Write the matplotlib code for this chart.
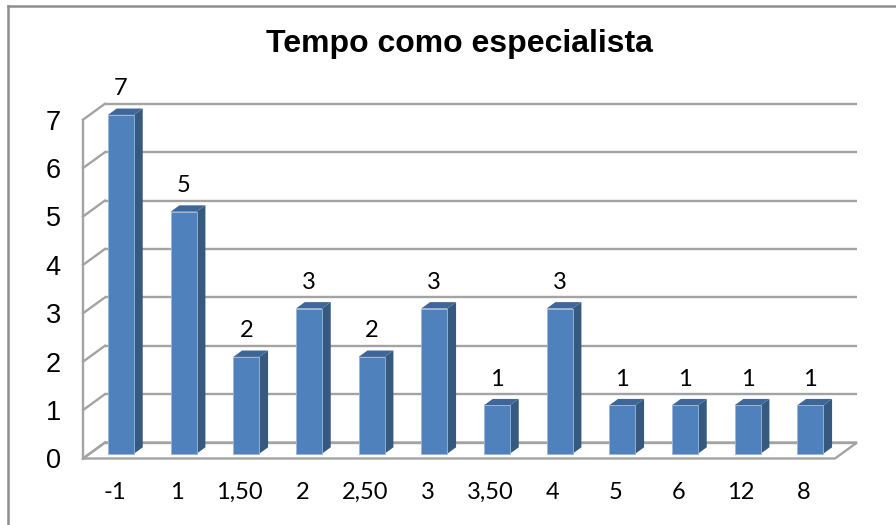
import numpy as np
import matplotlib as mpl
mpl.use('Agg')
import matplotlib.pyplot as plt
from matplotlib.patches import Polygon
from matplotlib.lines import Line2D

# data
categories = ['-1', '1', '1,50', '2', '2,50', '3', '3,50', '4', '5', '6', '12', '8']
counts = [7, 5, 2, 3, 2, 3, 1, 3, 1, 1, 1, 1]
yticks = [0, 1, 2, 3, 4, 5, 6, 7]
title = 'Tempo como especialista'

# pseudo-3d geometry, in data units of the front plane
DEPTH = np.array([0.351, 0.33])   # front -> back wall offset
BAR_Z0, BAR_Z1 = 0.30, 0.70       # bar slab position along the depth
BAR_W = 0.415

FACE = '#4f81bd'
SIDE = '#36597f'
TOP = '#3e6699'
GRID = '#a3a3a3'

fig = plt.figure(figsize=(8.96, 5.25), dpi=100)
ax = fig.add_axes([83 / 896., (525 - 458.5) / 525., 752 / 896., 338.8 / 525.])
n = len(categories)
ymax = yticks[-1]
ax.set_xlim(-0.5, n - 0.5)
ax.set_ylim(0, ymax)
for s in ax.spines.values():
    s.set_visible(False)

x0, x1 = -0.5, n - 0.5
dx, dy = DEPTH

# floor
floor = Polygon([(x0, 0), (x1, 0), (x1 + dx, dy), (x0 + dx, dy)], closed=True,
                facecolor='white', edgecolor=GRID, lw=1.7, zorder=1, clip_on=False)
ax.add_patch(floor)

# back wall gridlines and left wall
for v in yticks:
    ax.plot([x0 + dx, x1 + dx], [v + dy, v + dy], color=GRID, lw=1.7,
            zorder=1, clip_on=False, solid_capstyle='butt')
    ax.plot([x0, x0 + dx], [v, v + dy], color=GRID, lw=1.7, zorder=1, clip_on=False)
ax.plot([x0, x0], [0, ymax], color=GRID, lw=1.7, zorder=1, clip_on=False)

# bars
ox, oy = BAR_Z0 * dx, BAR_Z0 * dy
bx, by = (BAR_Z1 - BAR_Z0) * dx, (BAR_Z1 - BAR_Z0) * dy
for i, v in enumerate(counts):
    xl = i + ox - BAR_W / 2
    xr = i + ox + BAR_W / 2
    yb, yt = oy, v + oy
    side = Polygon([(xr, yb), (xr + bx, yb + by), (xr + bx, yt + by), (xr, yt)],
                   closed=True, facecolor=SIDE, edgecolor='none', zorder=3, clip_on=False)
    top = Polygon([(xl, yt), (xr, yt), (xr + bx, yt + by), (xl + bx, yt + by)],
                  closed=True, facecolor=TOP, edgecolor='none', zorder=3, clip_on=False)
    front = Polygon([(xl, yb), (xr, yb), (xr, yt), (xl, yt)], closed=True,
                    facecolor=FACE, edgecolor='#9db6d8', lw=0.6, zorder=4, clip_on=False)
    ax.add_patch(side)
    ax.add_patch(top)
    ax.add_patch(front)
    ax.annotate(str(v), xy=(i + ox, yt), xytext=(0, 18.7), textcoords='offset points',
                ha='center', va='center', fontsize=17, family='Lato',
                color='black', annotation_clip=False, zorder=5)

ax.set_xticks(range(n))
ax.set_xticklabels(categories, fontsize=17, family='Lato')
ax.set_yticks(yticks)
ax.set_yticklabels([str(v) for v in yticks], fontsize=19.5, family='Liberation Sans')
ax.tick_params(axis='both', length=0)
ax.tick_params(axis='x', pad=17)
ax.tick_params(axis='y', pad=16)

fig.text(459.5 / 896., (525 - 52) / 525., title, ha='center', va='baseline',
         fontsize=23, fontweight='bold', family='Liberation Sans')

# chart area border (only the left and top edges fall inside the image)
border = dict(color='#8f8f8f', lw=1.8, transform=fig.transFigure)
fig.add_artist(Line2D([8 / 896., 8 / 896.], [0, (525 - 6) / 525.], **border))
fig.add_artist(Line2D([8 / 896., 1], [(525 - 6) / 525., (525 - 6) / 525.], **border))

fig.savefig('out.png', dpi=100)
